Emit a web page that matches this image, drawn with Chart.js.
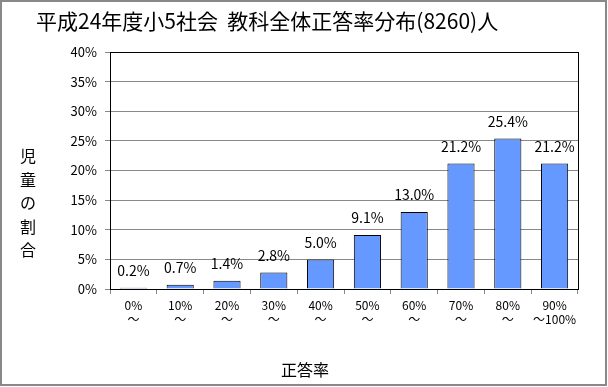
<!DOCTYPE html>
<html lang="ja">
<head>
<meta charset="UTF-8">
<title>教科全体正答率分布</title>
<script src="https://cdn.jsdelivr.net/npm/chart.js"></script>
<style>
  body { margin: 0; background: #fff; }
  #wrap { width: 608px; height: 387px; position: relative; }
</style>
</head>
<body>
<div id="wrap"><canvas id="chart"></canvas></div>
<script>
// data
const chartTitle = '平成24年度小5社会  教科全体正答率分布(8260)人';
const yTitle = ['児', '童', 'の', '割', '合'];
const xTitle = '正答率';
const categories = [
  ['0%', '～'], ['10%', '～'], ['20%', '～'], ['30%', '～'], ['40%', '～'],
  ['50%', '～'], ['60%', '～'], ['70%', '～'], ['80%', '～'], ['90%', '～100%']
];
const shares = [0.2, 0.7, 1.4, 2.8, 5.0, 9.1, 13.0, 21.2, 25.4, 21.2];

const FONT = '"Noto Sans CJK JP", "Noto Sans", sans-serif';

// title, axis titles, value labels, frame
const decorations = {
  id: 'decorations',
  afterDraw(chart) {
    const ctx = chart.ctx;
    const area = chart.chartArea;
    ctx.save();
    // outer frame
    ctx.strokeStyle = '#888';
    ctx.lineWidth = 2;
    ctx.strokeRect(1, 1, 605, 384);
    // plot border
    ctx.strokeStyle = '#000';
    ctx.lineWidth = 1;
    ctx.strokeRect(Math.round(area.left) + 0.5, Math.round(area.top) + 0.5,
      Math.round(area.right - area.left), Math.round(area.bottom - area.top));

    ctx.fillStyle = '#000';
    ctx.font = '21px ' + FONT;
    ctx.textAlign = 'left';
    ctx.textBaseline = 'middle';
    ctx.fillText(chartTitle, 36, 21);

    ctx.font = '16px ' + FONT;
    ctx.textAlign = 'center';
    yTitle.forEach((ch, i) => ctx.fillText(ch, 28, 156 + i * 23.5));
    ctx.fillText(xTitle, 305, 370);

    // value labels above bars
    ctx.font = '14px ' + FONT;
    ctx.textBaseline = 'bottom';
    const meta = chart.getDatasetMeta(0);
    meta.data.forEach((bar, i) => {
      ctx.fillText(shares[i].toFixed(1) + '%', bar.x, bar.y - 10);
    });
    ctx.restore();
  }
};

new Chart(document.getElementById('chart'), {
  type: 'bar',
  data: {
    labels: categories,
    datasets: [{
      data: shares,
      backgroundColor: '#6699ff',
      borderColor: '#000',
      borderWidth: 1,
      barPercentage: 0.58,
      categoryPercentage: 1.0
    }]
  },
  options: {
    responsive: true,
    maintainAspectRatio: false,
    animation: false,
    layout: { padding: { top: 52, right: 30, left: 0, bottom: 0 } },
    plugins: {
      legend: { display: false },
      tooltip: { enabled: false }
    },
    scales: {
      x: {
        offset: true,
        grid: { drawOnChartArea: false, offset: true, tickLength: 5, color: '#888' },
        border: { color: '#000' },
        ticks: {
          color: '#000',
          font: { family: FONT, size: 12 },
          padding: 4,
          maxRotation: 0,
          autoSkip: false
        },
        afterFit(scale) { scale.height = 98; }
      },
      y: {
        min: 0,
        max: 40,
        ticks: {
          stepSize: 5,
          color: '#000',
          font: { family: FONT, size: 13 },
          padding: 8,
          callback: v => v + '%'
        },
        grid: { color: '#888', tickLength: 5 },
        border: { color: '#000' },
        afterFit(scale) { scale.width = 110; }
      }
    }
  },
  plugins: [decorations]
});
</script>
</body>
</html>
